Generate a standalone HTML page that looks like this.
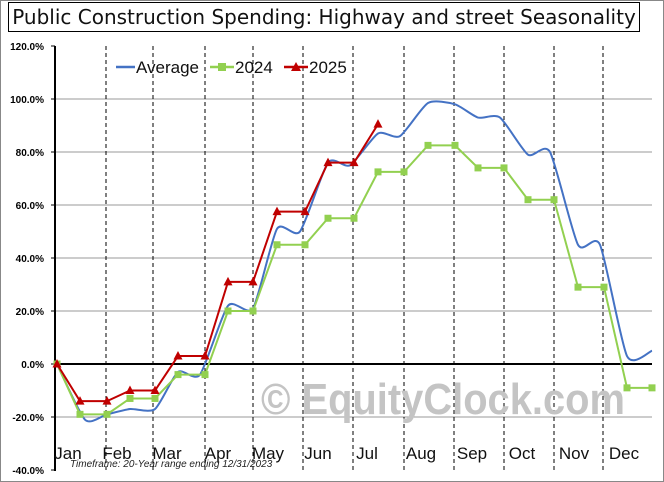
<!DOCTYPE html>
<html><head><meta charset="utf-8"><style>
html,body{margin:0;padding:0;background:#fff;}
svg{display:block;font-family:"DejaVu Sans","Liberation Sans",sans-serif;}
</style></head><body>
<svg id="s" width="664" height="482" viewBox="0 0 664 482">
<rect x="0.5" y="0.5" width="663" height="481" fill="#fff" stroke="#888"/>
<rect x="8.5" y="2.5" width="631" height="29" fill="#fff" stroke="#000"/>
<text x="324" y="24" font-size="20" text-anchor="middle" fill="#111">Public Construction Spending: Highway and street Seasonality</text>
<g id="grid"></g>
<text x="443" y="414" font-size="44" font-weight="bold" fill="#c4c4c4" text-anchor="middle" font-family="Liberation Sans, sans-serif" textLength="364" lengthAdjust="spacingAndGlyphs">© EquityClock.com</text>
<g font-size="10" font-weight="bold" text-anchor="end" font-family="Liberation Sans, sans-serif" id="yl"></g>
<g font-size="17" text-anchor="middle" fill="#111" font-family="Liberation Sans, sans-serif">
<text x="68" y="459">Jan</text><text x="117" y="459">Feb</text><text x="167" y="459">Mar</text>
<text x="218" y="459">Apr</text><text x="268" y="459">May</text><text x="318" y="459">Jun</text>
<text x="367" y="459">Jul</text><text x="421" y="459">Aug</text><text x="472" y="459">Sep</text>
<text x="522" y="459">Oct</text><text x="574" y="459">Nov</text><text x="624" y="459">Dec</text>
</g>
<text x="70" y="467" font-size="10" font-style="italic" fill="#222" font-family="Liberation Sans, sans-serif">Timeframe: 20-Year range ending 12/31/2023</text>
<g id="series"></g>
<g font-size="17" fill="#111" font-family="Liberation Sans, sans-serif">
<line x1="116" y1="67" x2="135" y2="67" stroke="#4472c4" stroke-width="2.5"/>
<text x="136" y="73">Average</text>
<line x1="210" y1="67" x2="234" y2="67" stroke="#92d050" stroke-width="2.5"/>
<rect x="218" y="63" width="8" height="8" fill="#92d050"/>
<text x="235" y="73">2024</text>
<line x1="284" y1="67" x2="308" y2="67" stroke="#c00000" stroke-width="2.5"/>
<polygon points="296,62 301,71 291,71" fill="#c00000"/>
<text x="309" y="73">2025</text>
</g>
</svg>
<script>
var NS="http://www.w3.org/2000/svg";
function el(p,t,a){var e=document.createElementNS(NS,t);for(var k in a)e.setAttribute(k,a[k]);p.appendChild(e);return e;}
function Y(v){return 364-v*2.65;}
var g=document.getElementById('grid');
[100,80,60,40,20,-20].forEach(function(v){el(g,'line',{x1:55,x2:652,y1:Y(v),y2:Y(v),stroke:'#999','stroke-width':1});});
[106,153,205,253,303,353,404,454,504,554,603].forEach(function(x){el(g,'line',{x1:x,x2:x,y1:46,y2:470,stroke:'#000','stroke-width':1,'stroke-dasharray':'4,3'});});
el(g,'line',{x1:55,x2:652,y1:364,y2:364,stroke:'#000','stroke-width':2});
el(g,'line',{x1:55,x2:55,y1:46,y2:471,stroke:'#000','stroke-width':2});
var yl=document.getElementById('yl');
for(var v=120;v>=-40;v-=20){el(g,'line',{x1:51,x2:55,y1:Y(v),y2:Y(v),stroke:'#000'});var t=el(yl,'text',{x:44,y:Y(v)+4});t.textContent=v.toFixed(1)+'%';}
var s=document.getElementById('series');
var avg=[[57,0],[85,-21],[107,-19],[130,-17],[155,-17],[178,-3],[200,-4],[228,22],[253,21],[277,51],[300,50],[328,76],[350,75],[378,87],[400,86],[428,98.5],[455,98],[478,93],[500,93],[528,79],[550,80],[578,45],[600,45],[627,3],[652,5]];
var P=avg.map(function(p){return [p[0],Y(p[1])];});
var d='M'+P[0][0]+','+P[0][1];
var k=9;
for(var i=0;i<P.length-1;i++){var p0=P[i-1]||P[i],p1=P[i],p2=P[i+1],p3=P[i+2]||p2;
d+=' C'+(p1[0]+(p2[0]-p0[0])/k)+','+(p1[1]+(p2[1]-p0[1])/k)+' '+(p2[0]-(p3[0]-p1[0])/k)+','+(p2[1]-(p3[1]-p1[1])/k)+' '+p2[0]+','+p2[1];}
el(s,'path',{d:d,fill:'none',stroke:'#4472c4','stroke-width':2});
var a24=[[57,0],[80,-19],[107,-19],[130,-13],[155,-13],[178,-4],[205,-4],[228,20],[253,20],[277,45],[305,45],[328,55],[354,55],[378,72.5],[404,72.5],[428,82.5],[455,82.5],[478,74],[504,74],[528,62],[554,62],[578,29],[604,29],[627,-9],[652,-9]];
el(s,'polyline',{points:a24.map(function(p){return p[0]+','+Y(p[1]);}).join(' '),fill:'none',stroke:'#92d050','stroke-width':2});
a24.forEach(function(p){el(s,'rect',{x:p[0]-3.5,y:Y(p[1])-3.5,width:7,height:7,fill:'#92d050'});});
var a25=[[57,0],[80,-14],[107,-14],[130,-10],[155,-10],[178,3],[205,3],[228,31],[253,31],[277,57.5],[305,57.5],[328,76],[354,76],[378,90.5]];
el(s,'polyline',{points:a25.map(function(p){return p[0]+','+Y(p[1]);}).join(' '),fill:'none',stroke:'#c00000','stroke-width':2});
a25.forEach(function(p){var x=p[0],y=Y(p[1]);el(s,'polygon',{points:x+','+(y-5)+' '+(x+4.5)+','+(y+3.5)+' '+(x-4.5)+','+(y+3.5),fill:'#c00000'});});
</script>
</body></html>
